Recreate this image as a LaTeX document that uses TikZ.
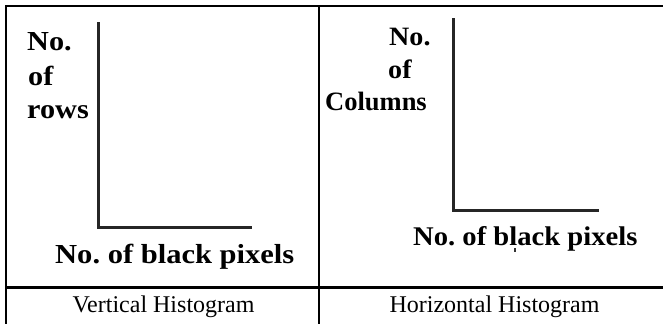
\documentclass[tikz,border=0pt]{standalone}
\usepackage{fontspec}
\setmainfont{Liberation Serif}
\frenchspacing
\begin{document}
\begin{tikzpicture}[x=1pt,y=-1pt,
  rule/.style={line width=2.2pt,black},
  axisline/.style={line width=3pt,black!85,line cap=rect},
  biglabel/.style={inner sep=0pt,anchor=base west,font=\fontsize{27.5}{33}\selectfont\bfseries},
  sidelabel/.style={inner sep=0pt,anchor=base west,font=\fontsize{26.5}{32}\selectfont\bfseries},
  caption/.style={inner sep=0pt,anchor=base,font=\fontsize{24}{28}\selectfont}]
\useasboundingbox (0,0) rectangle (663,324);

% table rules
\coordinate (tl) at (5,5.8);
\coordinate (tr) at (663,5.8);
\coordinate (lt) at (5.8,5);
\coordinate (lb) at (5.8,324);
\coordinate (mt) at (318.7,5);
\coordinate (mb) at (318.7,324);
\coordinate (hl) at (5,287.5);
\coordinate (hr) at (663,287.5);
\draw[rule] (tl) -- (tr);
\draw[rule] (lt) -- (lb);
\draw[rule] (mt) -- (mb);
\draw[rule] (hl) -- (hr);

% left plot: vertical histogram
\coordinate (ltop) at (98,23);
\coordinate (lorg) at (98,227);
\coordinate (lend) at (250,227);
\draw[axisline] (ltop) -- (lorg) -- (lend);
\node[biglabel] (lno)   at (27,50)  {\scalebox{1.1}[1]{No.}};
\node[biglabel] (lof)   at (28,85)  {\scalebox{1.1}[1]{of}};
\node[biglabel] (lrows) at (27,118) {\scalebox{1.1}[1]{rows}};
\node[biglabel] (lx)    at (55,263) {\scalebox{1.11}[1]{No. of black pixels}};

% right plot: horizontal histogram
\coordinate (rtop) at (453,19);
\coordinate (rorg) at (453,210);
\coordinate (rend) at (597,210);
\draw[axisline] (rtop) -- (rorg) -- (rend);
\node[sidelabel] (rno)  at (389,45)  {\scalebox{1.06}[1]{No.}};
\node[sidelabel] (rof)  at (388,78)  {\scalebox{1.06}[1]{of}};
\node[sidelabel] (rcol) at (325,110) {\scalebox{1.0}[1]{Columns}};
\node[sidelabel,font=\fontsize{27}{32}\selectfont\bfseries] (rx) at (413,245) {\scalebox{1.06}[1]{No. of black pixels}};
\coordinate (dota) at (514.8,248);
\coordinate (dotb) at (514.8,252);
\draw[line width=2pt,black!80] (dota) -- (dotb);

% captions
\node[caption] (lcap) at (163.5,312) {Vertical Histogram};
\node[caption] (rcap) at (494.5,312) {Horizontal Histogram};
\end{tikzpicture}
\end{document}
